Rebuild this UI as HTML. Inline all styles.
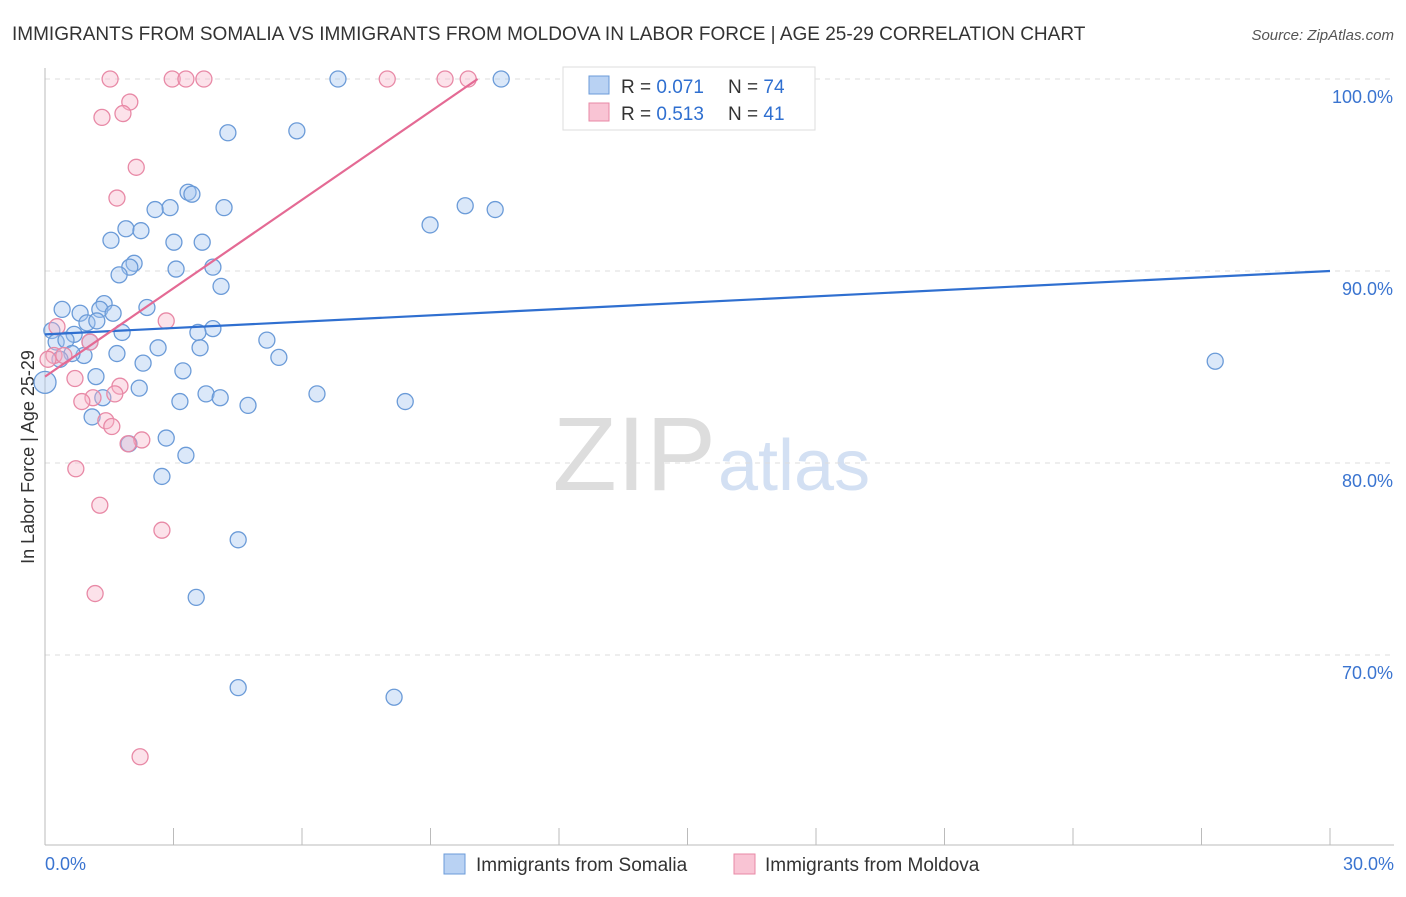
<!DOCTYPE html>
<html><head><meta charset="utf-8"><style>
body{margin:0;background:#fff;font-family:"Liberation Sans",sans-serif}
svg text{font-family:"Liberation Sans",sans-serif}
</style></head><body>
<svg id="c" width="1406" height="892">
<text x="12" y="40" font-size="19" fill="#333">IMMIGRANTS FROM SOMALIA VS IMMIGRANTS FROM MOLDOVA IN LABOR FORCE | AGE 25-29 CORRELATION CHART</text>
<text x="1394" y="40" font-size="15" fill="#555" font-style="italic" text-anchor="end">Source: ZipAtlas.com</text>
<text x="716" y="490" font-size="105" fill="#ddd" text-anchor="end" font-family="Liberation Serif">ZIP</text>
<text x="718" y="490" font-size="72" fill="#d3e0f3">atlas</text>
<text transform="translate(34,457) rotate(-90)" font-size="18" fill="#333" text-anchor="middle">In Labor Force | Age 25-29</text>
<g id="grid"></g><g id="pts"></g><g id="lines"></g>
<g>
<rect x="563" y="67" width="252" height="63" fill="#fff" stroke="#ddd"/>
<rect x="589" y="76" width="20" height="18" fill="#b9d2f3" stroke="#6b9bd8"/>
<rect x="589" y="103" width="20" height="18" fill="#f9c4d4" stroke="#e889a6"/>
<text x="621" y="93" font-size="19" fill="#333">R = <tspan fill="#2f6fd0">0.071</tspan></text>
<text x="728" y="93" font-size="19" fill="#333">N = <tspan fill="#2f6fd0">74</tspan></text>
<text x="621" y="120" font-size="19" fill="#333">R = <tspan fill="#2f6fd0">0.513</tspan></text>
<text x="728" y="120" font-size="19" fill="#333">N = <tspan fill="#2f6fd0">41</tspan></text>
</g>
<g>
<rect x="444" y="854" width="21" height="20" fill="#b9d2f3" stroke="#6b9bd8"/>
<text x="476" y="871" font-size="19" fill="#333">Immigrants from Somalia</text>
<rect x="734" y="854" width="21" height="20" fill="#f9c4d4" stroke="#e889a6"/>
<text x="765" y="871" font-size="19" fill="#333">Immigrants from Moldova</text>
</g>
</svg>
<script>
const yTicks=[70,80,90,100];
const xTickLabels=["0.0%","30.0%"];
const somaliaX=[6.84,10.65,4.27,5.88,3.34,3.43,2.92,2.57,4.18,9.81,10.51,8.99,1.89,2.24,1.54,3.01,3.67,2.08,1.98,3.06,3.92,1.73,4.11,0.40,1.38,1.28,2.38,0.82,1.59,0.98,1.21,0.16,0.68,1.80,3.92,3.57,0.26,0.49,1.05,5.18,2.64,3.62,1.68,0.91,5.46,2.29,27.32,3.22,1.19,0.0,2.20,3.76,6.35,4.09,1.35,3.15,4.74,8.41,1.10,2.83,1.96,3.29,2.73,4.51,3.53,4.51,8.15,0.63,0.35];
const somaliaY=[100,100,97.2,97.3,94.1,94.0,93.3,93.2,93.3,93.4,93.2,92.4,92.2,92.1,91.6,91.5,91.5,90.4,90.2,90.1,90.2,89.8,89.2,88.0,88.3,88.0,88.1,87.8,87.8,87.3,87.4,86.9,86.7,86.8,87.0,86.8,86.3,86.4,86.3,86.4,86.0,86.0,85.7,85.6,85.5,85.2,85.3,84.8,84.5,84.2,83.9,83.6,83.6,83.4,83.4,83.2,83.0,83.2,82.4,81.3,81.0,80.4,79.3,76.0,73.0,68.3,67.8,85.7,85.4];
const moldovaX=[1.52,2.97,3.29,3.71,7.99,9.34,9.88,1.98,1.82,1.33,2.13,1.68,2.83,0.28,1.05,0.21,0.44,0.07,0.70,1.75,1.63,1.12,0.86,1.42,1.56,2.26,1.94,0.72,1.28,2.73,1.17,2.22];
const moldovaY=[100,100,100,100,100,100,100,98.8,98.2,98.0,95.4,93.8,87.4,87.1,86.3,85.6,85.6,85.4,84.4,84.0,83.6,83.4,83.2,82.2,81.9,81.2,81.0,79.7,77.8,76.5,73.2,64.7];
const somaliaTrend=[86.7,90.0];
const moldovaTrend=[84.5,100,10.1];
const NS="http://www.w3.org/2000/svg";
const X=v=>45+v/30*1285, Y=v=>79+(100-v)*19.2;
function mk(t,a,p){const e=document.createElementNS(NS,t);for(const k in a)e.setAttribute(k,a[k]);p.appendChild(e);return e;}
const g=document.getElementById('grid');
yTicks.forEach(t=>{
 const l=mk('line',{x1:45,x2:1394,y1:Y(t),y2:Y(t),stroke:'#ddd','stroke-dasharray':'5,5'},g);
 
 
 const tx=mk('text',{x:1393,y:Y(t)+24,'font-size':18,fill:'#3a74d0','text-anchor':'end'},g);
 tx.textContent=t.toFixed(1)+'%';
 
 
});
const ax=mk('line',{x1:45,x2:45,y1:68,y2:845,stroke:'#bbb'},g);


const bx=mk('line',{x1:45,x2:1394,y1:845,y2:845,stroke:'#bbb'},g);


for(let i=0;i<=10;i++){const tk=mk('line',{x1:X(i*3),x2:X(i*3),y1:828,y2:845,stroke:'#bbb'},g);
 
 }
[[0,'start',45],[1,'end',1394]].forEach(([i,a,x])=>{const t=mk('text',{x:x,y:870,'font-size':18,fill:'#3a74d0','text-anchor':a},g);t.textContent=xTickLabels[i];
 
 });
const p=document.getElementById('pts');
somaliaX.forEach((x,i)=>{const c=mk('circle',{cx:X(x),cy:Y(somaliaY[i]),r:i==49?11:8,fill:'rgba(160,195,240,0.38)',stroke:'#6b9bd8','stroke-width':1.3},p);
 
 });
moldovaX.forEach((x,i)=>{const c=mk('circle',{cx:X(x),cy:Y(moldovaY[i]),r:8,fill:'rgba(248,180,200,0.38)',stroke:'#e889a6','stroke-width':1.3},p);
 
 });
const L=document.getElementById('lines');
const l1=mk('line',{x1:X(0),y1:Y(somaliaTrend[0]),x2:X(30),y2:Y(somaliaTrend[1]),stroke:'#2f6fd0','stroke-width':2.2},L);


const l2=mk('line',{x1:X(0),y1:Y(moldovaTrend[0]),x2:X(moldovaTrend[2]),y2:Y(moldovaTrend[1]),stroke:'#e46a94','stroke-width':2.2},L);


</script>
</body></html>
